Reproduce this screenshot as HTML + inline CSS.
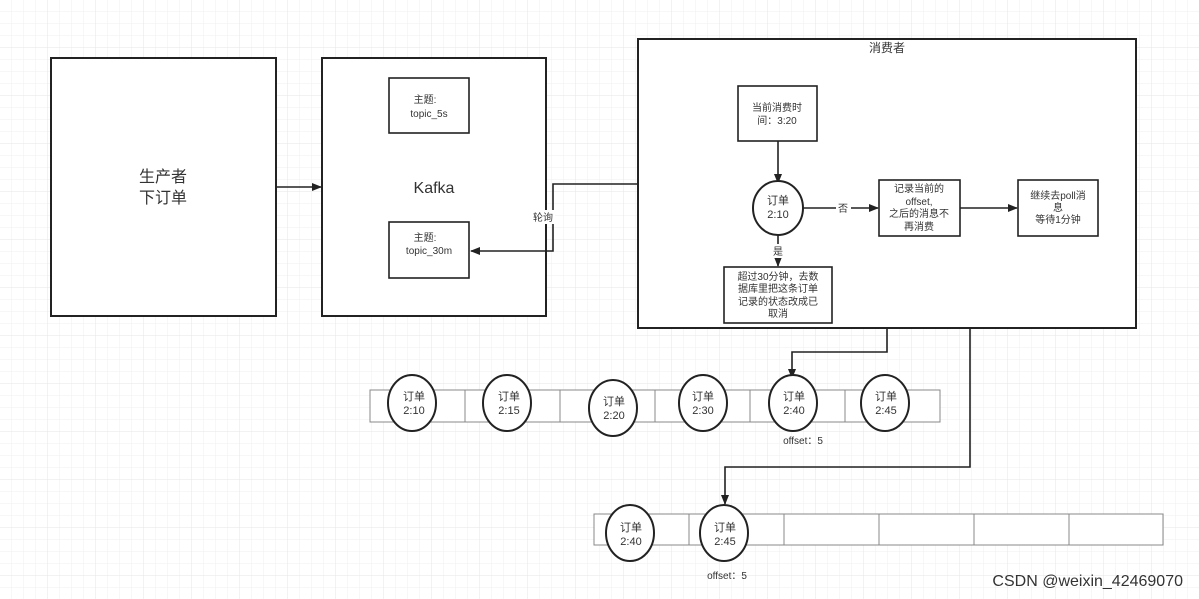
<!DOCTYPE html>
<html><head><meta charset="utf-8"><style>
html,body{margin:0;padding:0;background:#fff}
svg{display:block}
text{font-family:"Liberation Sans","Noto Sans CJK SC",sans-serif;fill:#333}
</style></head><body>
<svg width="1199" height="599" viewBox="0 0 1199 599" xmlns="http://www.w3.org/2000/svg">
<defs>
<pattern id="g" width="12" height="12" patternUnits="userSpaceOnUse"><path d="M12 0V12M0 12H12" stroke="#efefef" stroke-width="1" fill="none"/></pattern>
<pattern id="G" width="48" height="48" patternUnits="userSpaceOnUse"><rect width="48" height="48" fill="url(#g)"/><path d="M48 0V48M0 48H48" stroke="#e6e6e6" stroke-width="1" fill="none"/></pattern>
<marker id="a" markerWidth="10" markerHeight="8" refX="9" refY="4" orient="auto" markerUnits="userSpaceOnUse"><path d="M0,0 L10,4 L0,8z" fill="#222"/></marker>
</defs>
<rect width="1199" height="599" fill="url(#G)"/>
<g stroke="#222" stroke-width="2" fill="#fff">
<rect x="51" y="58" width="225" height="258"/>
<rect x="322" y="58" width="224" height="258"/>
<rect x="638" y="39" width="498" height="289"/>
</g>
<g stroke="#222" stroke-width="1.6" fill="#fff">
<rect x="389" y="78" width="80" height="55"/>
<rect x="389" y="222" width="80" height="56"/>
<rect x="738" y="86" width="79" height="55"/>
<rect x="879" y="180" width="81" height="56"/>
<rect x="1018" y="180" width="80" height="56"/>
<rect x="724" y="267" width="108" height="56"/>
</g>
<g stroke="#222" stroke-width="1.6" fill="none">
<line x1="276" y1="187" x2="321" y2="187" marker-end="url(#a)"/>
<polyline points="638,184 553,184 553,251 471,251" marker-end="url(#a)"/>
<line x1="778" y1="141" x2="778" y2="183" marker-end="url(#a)"/>
<line x1="802" y1="208" x2="878" y2="208" marker-end="url(#a)"/>
<line x1="960" y1="208" x2="1017" y2="208" marker-end="url(#a)"/>
<line x1="778" y1="232" x2="778" y2="266" marker-end="url(#a)"/>
<polyline points="887,328 887,352 792,352 792,378" marker-end="url(#a)"/>
<polyline points="970,328 970,467 725,467 725,504" marker-end="url(#a)"/>
</g>
<rect x="531" y="210" width="24" height="14" fill="#fff"/>
<rect x="836" y="201" width="15" height="14" fill="#fff"/>
<rect x="771" y="244" width="15" height="14" fill="#fff"/>
<text x="163" y="182" font-size="16" text-anchor="middle" fill="#222">生产者</text>
<text x="163" y="203" font-size="16" text-anchor="middle" fill="#222">下订单</text>
<text x="434" y="193" font-size="16" text-anchor="middle" fill="#222">Kafka</text>
<g font-size="10" text-anchor="middle">
<text x="425" y="103">主题:</text><text x="429" y="117">topic_5s</text>
<text x="425" y="241">主题:</text><text x="429" y="254">topic_30m</text>
<text x="777" y="111">当前消费时</text><text x="777" y="124">间：3:20</text>
<text x="919" y="192">记录当前的</text><text x="919" y="205">offset,</text><text x="919" y="217">之后的消息不</text><text x="919" y="230">再消费</text>
<text x="1058" y="199">继续去poll消</text><text x="1058" y="211">息</text><text x="1058" y="223">等待1分钟</text>
<text x="778" y="280">超过30分钟，去数</text><text x="778" y="292">据库里把这条订单</text><text x="778" y="305">记录的状态改成已</text><text x="778" y="317">取消</text>
<text x="543" y="221" fill="#444">轮询</text>
<text x="843" y="212">否</text>
<text x="778" y="255">是</text>
<text x="887" y="52" font-size="12">消费者</text>
<text x="803" y="444">offset：5</text>
<text x="727" y="579">offset：5</text>
</g>
<g stroke="#888" stroke-width="1" fill="#fff">
<rect x="370" y="390" width="570" height="32"/>
<path d="M465 390V422M560 390V422M655 390V422M750 390V422M845 390V422"/>
<rect x="594" y="514" width="569" height="31"/>
<path d="M689 514V545M784 514V545M879 514V545M974 514V545M1069 514V545"/>
</g>
<g stroke="#222" stroke-width="2" fill="#fff">
<ellipse cx="778" cy="208" rx="25" ry="27"/>
<ellipse cx="412" cy="403" rx="24" ry="28"/>
<ellipse cx="507" cy="403" rx="24" ry="28"/>
<ellipse cx="613" cy="408" rx="24" ry="28"/>
<ellipse cx="703" cy="403" rx="24" ry="28"/>
<ellipse cx="793" cy="403" rx="24" ry="28"/>
<ellipse cx="885" cy="403" rx="24" ry="28"/>
<ellipse cx="630" cy="533" rx="24" ry="28"/>
<ellipse cx="724" cy="533" rx="24" ry="28"/>
</g>
<g font-size="11" text-anchor="middle">
<text x="778" y="204">订单</text><text x="778" y="218">2:10</text>
<text x="414" y="400">订单</text><text x="414" y="414">2:10</text>
<text x="509" y="400">订单</text><text x="509" y="414">2:15</text>
<text x="614" y="405">订单</text><text x="614" y="419">2:20</text>
<text x="703" y="400">订单</text><text x="703" y="414">2:30</text>
<text x="794" y="400">订单</text><text x="794" y="414">2:40</text>
<text x="886" y="400">订单</text><text x="886" y="414">2:45</text>
<text x="631" y="531">订单</text><text x="631" y="545">2:40</text>
<text x="725" y="531">订单</text><text x="725" y="545">2:45</text>
</g>
<text x="1183" y="586" font-size="16" text-anchor="end" fill="#555">CSDN @weixin_42469070</text>
</svg>
</body></html>
